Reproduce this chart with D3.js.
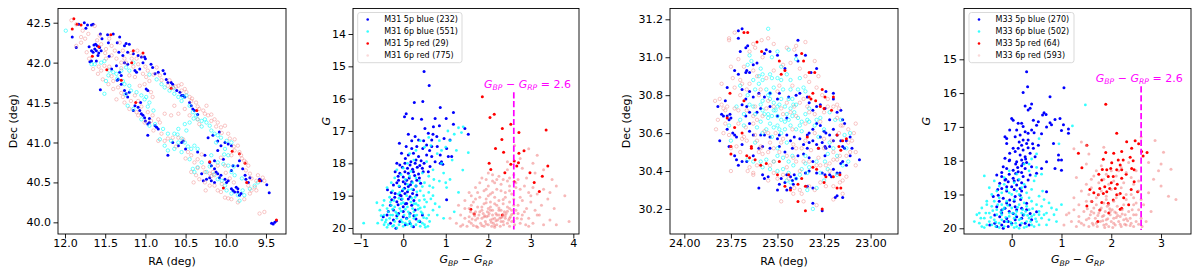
<!DOCTYPE html>
<html>
<head>
<meta charset="utf-8">
<script src="https://cdn.jsdelivr.net/npm/d3@7/dist/d3.min.js"></script>
<style>
  body { margin: 0; background: #fff; }
  svg { font-family: 'DejaVu Sans', sans-serif; }
</style>
</head>
<body>
<div id="chart"></div>
<script>
// ---- M31 sky positions [RA, Dec]
var m31SkyBlue5 = [[11.83,42.48],[11.76,42.50],[11.72,42.47],[11.67,42.47],[11.65,42.48],[11.74,42.43],[11.91,42.32],[11.86,42.19],
  [11.56,42.36],[11.47,42.35],[11.40,42.36],[11.54,42.30],[11.46,42.25],[11.35,42.25],[11.32,42.32],[11.64,42.22],[11.62,42.23],
  [11.60,42.21],[11.63,42.17],[11.67,42.15],[11.61,42.15],[11.57,42.19],[11.55,42.15],[11.69,42.01],[11.67,42.02],[11.61,42.02],
  [11.59,42.09],[11.65,42.13],[11.24,42.24],[11.20,42.23],[11.26,42.21],[11.22,42.13],[11.15,42.11],[11.09,42.09],[11.05,42.07],
  [11.00,42.05],[11.03,42.00],[11.01,42.07],[11.33,42.13],[11.28,42.09],[11.26,42.00],[11.22,41.98],[11.42,41.92],[11.36,41.96],
  [11.32,41.88],[11.34,41.79],[11.30,41.84],[11.13,41.90],[11.07,41.92],[11.11,41.88],[10.93,41.98],[10.91,41.94],[10.88,41.86],
  [10.84,41.88],[10.78,41.90],[10.76,41.86],[10.74,41.79],[10.72,41.75],[10.68,41.75],[10.66,41.73],[11.56,41.66],[11.35,41.78],
  [11.30,41.73],[11.26,41.65],[11.24,41.61],[11.22,41.57],[11.20,41.63],[11.09,41.44],[11.07,41.40],[11.05,41.36],[11.03,41.34],
  [11.01,41.31],[11.00,41.27],[10.97,41.23],[10.88,41.21],[10.86,41.19],[10.84,41.17],[10.95,41.25],[11.13,41.46],[11.06,41.50],
  [10.99,41.67],[10.97,41.65],[10.61,41.65],[10.57,41.63],[10.55,41.59],[10.53,41.59],[10.51,41.57],[10.43,41.46],[10.41,41.42],
  [10.39,41.40],[10.97,41.09],[10.66,41.00],[10.59,40.96],[10.55,41.00],[10.53,41.02],[10.50,40.92],[10.72,40.84],[10.35,40.88],
  [10.26,40.84],[10.22,41.06],[10.16,41.09],[10.08,41.13],[10.10,41.02],[10.06,40.96],[10.01,41.00],[9.97,40.98],[9.93,40.96],
  [10.10,40.90],[10.03,40.79],[10.14,40.77],[10.20,40.75],[10.18,40.71],[10.14,40.67],[10.12,40.63],[10.10,40.61],[10.08,40.56],
  [10.06,40.59],[10.01,40.54],[9.99,40.50],[9.97,40.52],[9.93,40.65],[9.91,40.71],[9.85,40.71],[9.83,40.77],[10.30,40.61],
  [10.28,40.52],[10.24,40.54],[10.20,40.56],[10.18,40.52],[10.14,40.50],[9.93,40.42],[9.91,40.40],[9.89,40.38],[9.85,40.38],
  [9.83,40.34],[9.81,40.36],[9.85,40.42],[9.87,40.44],[9.76,40.59],[9.75,40.54],[9.72,40.50],[9.70,40.56],[9.79,40.67],
  [9.58,40.54],[9.56,40.52],[9.49,40.47],[9.46,40.37],[9.43,39.99],[9.41,39.98],[9.39,40.00],[9.37,40.02],
  [11.70,42.20],[11.58,42.12],[11.45,42.08],[10.45,41.50],[10.35,41.35],[10.95,41.30],[11.15,41.40]];
var m31SkyCyan6 = [[11.99,42.40],[11.67,41.98],[11.63,41.98],[11.55,42.00],[11.51,42.02],[11.49,41.77],[11.46,41.84],[11.40,41.88],
  [11.36,41.86],[11.30,41.90],[11.24,41.94],[11.20,41.90],[11.15,42.00],[11.51,41.61],[11.28,41.77],[11.26,41.73],[11.20,41.71],
  [11.18,41.65],[11.11,41.63],[11.05,41.59],[11.01,41.54],[10.99,41.57],[10.95,41.50],[11.22,41.46],[11.15,41.42],[11.05,41.29],
  [10.95,41.21],[10.88,41.23],[10.78,41.17],[10.72,41.11],[10.64,41.11],[10.68,41.02],[10.59,41.00],[10.51,41.00],[10.43,40.92],
  [10.39,40.96],[10.35,40.92],[10.86,41.79],[10.80,41.73],[10.76,41.69],[10.70,41.65],[10.64,41.61],[10.59,41.57],[10.53,41.57],
  [10.49,41.59],[10.45,41.46],[10.41,41.38],[10.37,41.34],[10.35,41.29],[10.30,41.27],[10.26,41.29],[10.24,41.25],[10.20,41.21],
  [10.18,41.15],[10.14,41.11],[10.10,41.09],[10.06,41.06],[9.99,41.02],[9.93,41.00],[10.01,40.92],[9.97,40.84],[10.03,40.73],
  [9.97,40.71],[9.93,40.63],[9.89,40.59],[10.41,40.67],[10.39,40.63],[10.35,40.69],[10.24,40.63],[10.10,40.54],[10.01,40.46],
  [9.99,40.40],[9.93,40.36],[9.85,40.34],[9.83,40.27],[9.79,40.40],[9.77,40.34],[9.70,40.42],[9.64,40.46],[9.60,40.50],
  [10.45,41.25],[10.51,41.23],[10.49,41.15],[10.59,41.17],[10.82,41.04],[10.76,40.96],[10.72,40.90],[10.64,40.92],[10.55,40.88],
  [10.45,40.79],[10.30,40.75],[10.18,40.84],[10.10,40.75],
  [11.45,41.90],[11.35,41.80],[11.25,41.60],[10.97,41.45],[10.90,41.40],[10.60,41.10],[10.55,41.05],[10.47,40.95],[10.20,40.70],
  [10.15,40.60],[10.05,40.52],[10.95,41.85],[10.65,41.68],[10.55,41.52],[10.40,41.30],[10.30,41.20],[10.12,41.00],[10.02,40.85],
  [9.90,40.70],[9.80,40.55]];
var m31SkyRed5 = [[11.89,42.55],[11.91,42.42],[11.85,42.48],[11.80,42.47],[11.66,42.08],[11.58,42.20],[11.43,42.35],[11.15,42.15],
  [11.17,42.00],[11.30,41.78],[11.12,41.50],[10.68,41.68],[10.36,41.40],[10.20,40.76],[9.92,40.89],[9.76,40.74],[9.74,40.50],
  [9.58,40.52],[10.03,40.43],[9.37,40.03],[9.83,40.86],[11.03,42.12],[11.48,41.91]];
var m31SkyPink6 = [[11.92,42.53],[11.86,42.48],[11.63,42.46],[11.78,42.40],[11.71,42.36],[11.57,42.34],[11.73,42.13],[11.55,42.23],
  [11.49,42.17],[11.42,42.21],[11.32,42.25],[11.49,42.05],[11.42,42.09],[11.36,42.05],[11.26,42.05],[11.17,42.05],[11.11,42.05],
  [11.09,41.98],[11.05,42.09],[11.55,41.90],[11.53,41.79],[11.46,41.73],[11.40,41.67],[11.36,41.54],[11.28,41.57],[11.26,41.50],
  [11.20,41.42],[11.11,41.38],[11.09,41.34],[11.01,41.25],[10.93,41.27],[10.97,41.38],[10.91,41.34],[10.84,41.29],[11.30,42.00],
  [11.24,42.00],[11.20,41.84],[11.13,41.82],[11.03,41.86],[10.99,41.82],[10.95,41.77],[10.97,41.90],[10.86,41.94],[10.82,41.84],
  [10.72,41.71],[10.66,41.69],[10.59,41.71],[10.55,41.73],[10.51,41.67],[10.49,41.63],[10.45,41.57],[10.43,41.52],[10.37,41.50],
  [10.33,41.42],[10.26,41.36],[10.22,41.34],[10.24,41.46],[10.35,41.29],[10.33,41.23],[10.64,41.46],[10.59,41.36],[10.68,41.34],
  [10.76,41.36],[10.82,41.25],[10.80,41.11],[10.84,41.02],[10.76,41.02],[10.66,41.06],[10.59,41.06],[10.53,41.04],[10.47,40.88],
  [10.43,40.84],[10.39,40.75],[10.35,40.79],[10.28,40.69],[10.26,40.63],[10.20,40.61],[10.16,40.63],[10.14,40.59],[10.10,40.71],
  [10.01,40.71],[10.06,40.81],[9.93,40.84],[9.89,40.90],[9.85,40.96],[9.83,40.88],[9.81,40.84],[9.77,40.77],[9.72,40.71],
  [9.75,40.65],[9.70,40.61],[9.72,40.46],[9.68,40.40],[9.64,40.44],[9.70,40.36],[9.77,40.29],[9.85,40.25],[9.93,40.29],
  [10.01,40.31],[10.06,40.38],[10.10,40.40],[10.14,40.46],[10.20,40.46],[10.26,40.50],[10.33,40.54],[10.37,40.59],[10.43,40.63],
  [9.60,40.59],[9.54,40.56],[9.52,40.52],[9.62,40.40],[9.58,40.11],[9.52,40.13],[10.01,41.21],[10.10,41.25],[10.14,41.29],
  [10.18,41.27],[10.06,41.19],[9.97,41.11],[9.89,41.04],[10.51,41.42],[10.45,41.34],[10.93,41.63],[10.91,41.57],[11.07,41.71],
  [11.01,41.73],[11.13,41.59],[11.09,41.52],[11.34,41.69],[11.40,41.77],[11.65,41.92],[11.59,41.86],[11.51,41.96],[11.86,42.21],
  [11.80,42.25],
  [11.75,42.30],[11.60,42.28],[11.45,42.30],[11.38,42.15],[11.28,42.15],[11.18,42.12],[11.10,42.15],[11.45,41.95],[11.30,41.93],
  [11.15,41.95],[11.00,41.95],[10.90,41.85],[10.80,41.78],[10.70,41.78],[10.62,41.70],[10.55,41.65],[10.42,41.55],[10.35,41.45],
  [10.28,41.40],[10.18,41.35],[10.12,41.20],[10.05,41.12],[9.95,41.05],[9.90,40.95],[9.80,40.80],[9.75,40.75],[9.68,40.55],
  [9.95,40.55],[10.05,40.48],[10.18,40.58],[10.35,40.68],[10.50,40.80],[10.62,40.95],[10.72,41.05],[10.90,41.15],[11.05,41.45],
  [11.18,41.52],[11.30,41.62],[11.42,41.83],[11.58,41.95],[11.70,42.05],[11.80,42.32],[11.50,42.12],[10.25,40.40],[10.40,40.50],
  [9.97,40.30],[9.90,40.50],[10.00,40.62],[10.30,40.85],[9.62,40.52]];

// ---- M31 colour-magnitude [BP-RP, G]
var m31CmdBlue5 = [[0.49,15.16],[0.61,15.59],[0.26,16.12],[0.46,16.09],[0.87,16.27],[1.18,16.43],[0.07,16.47],[0.03,16.56],
  [0.22,16.61],[0.43,16.64],[0.75,16.61],[1.01,16.61],[1.18,16.79],[0.51,16.92],[0.71,16.87],[0.85,16.84],[1.45,16.92],[1.53,17.10],
  [0.12,17.10],[0.28,17.17],[0.36,17.28],[0.59,17.07],[0.67,17.28],[0.79,17.17],[0.96,17.23],[1.10,17.28],[-0.09,17.38],[0.07,17.48],
  [0.20,17.54],[0.32,17.48],[0.46,17.54],[0.55,17.43],[0.67,17.48],[0.80,17.48],[1.02,17.54],[-0.04,17.69],[0.12,17.74],[0.24,17.69],
  [0.36,17.79],[0.55,17.74],[0.67,17.79],[0.87,17.74],[1.06,17.79],[-0.15,18.00],[-0.08,18.05],[0.04,18.00],[0.16,18.05],[0.28,18.00],
  [0.39,18.07],[0.49,18.00],[0.63,18.10],[0.87,18.00],[0.93,18.03],[1.14,17.79],[-0.19,18.26],[-0.08,18.31],[0.04,18.26],[0.12,18.31],
  [0.24,18.26],[0.36,18.33],[0.47,18.26],[0.59,18.26],[-0.11,18.52],[0.00,18.57],[0.08,18.52],[0.20,18.57],[0.32,18.52],[0.41,18.62],
  [-0.23,18.67],[-0.09,18.72],[0.03,18.77],[0.12,18.72],[0.24,18.82],[-0.37,18.82],[-0.19,18.93],[-0.08,18.98],[0.04,18.93],
  [0.16,19.03],[0.32,18.98],[-0.27,19.13],[-0.15,19.19],[-0.04,19.11],[0.08,19.24],[1.02,19.13],[-0.35,19.49],[-0.23,19.44],
  [-0.11,19.55],[0.00,19.49],[0.16,19.55],[0.28,19.44],[-0.23,19.75],[-0.08,19.80],[0.08,19.70],[0.16,19.86],[0.39,19.80],
  [-0.17,20.01],[0.24,19.96],[-0.47,19.65],[0.00,19.34],
  [0.05,17.85],[0.18,17.95],[0.3,17.9],[0.42,17.92],[-0.02,18.12],[0.1,18.15],[0.22,18.18],[0.33,18.12],[0.45,18.15],[-0.12,18.4],
  [0.0,18.42],[0.14,18.45],[0.27,18.38],[0.38,18.45],[-0.15,18.6],[0.05,18.63],[0.17,18.66],[0.3,18.7],[-0.28,18.9],[-0.02,18.85],
  [0.1,18.88],[0.22,18.93],[-0.2,19.05],[-0.05,19.0],[0.12,19.1],[0.25,19.15],[-0.3,19.3],[-0.12,19.28],[0.05,19.25],[0.2,19.3],
  [-0.38,19.6],[-0.15,19.62],[0.0,19.65],[0.25,19.62],[-0.3,19.85],[0.05,19.9],[0.3,19.72],[0.45,19.6],[0.62,17.6],[0.75,17.95],
  [0.48,17.3],[0.2,17.3],[0.9,17.95],[0.7,17.1]];
var m31CmdCyan6 = [[-0.93,19.85],[-0.62,19.22],[-0.55,19.45],[-0.45,19.6],[-0.48,19.3],[-0.4,19.75],[-0.35,19.9],[-0.3,19.6],
  [-0.25,19.95],[-0.2,19.8],[-0.15,19.7],[-0.1,19.9],[-0.05,19.75],[0.0,19.95],[0.05,19.85],[0.1,19.9],[0.15,19.8],[0.2,19.95],
  [0.25,19.7],[0.3,19.9],[0.35,19.8],[0.4,19.95],[0.45,19.85],[0.5,19.9],[-0.38,19.4],[-0.28,19.3],[-0.18,19.5],[-0.08,19.4],
  [0.02,19.6],[0.12,19.5],[0.22,19.4],[0.32,19.6],[0.42,19.5],[0.5,19.35],[0.55,19.7],[0.6,19.6],[-0.32,19.05],[-0.22,19.15],
  [-0.12,18.95],[-0.02,19.1],[0.08,19.0],[0.18,19.2],[0.28,19.05],[0.38,19.15],[0.48,19.0],[0.55,19.2],[0.65,19.1],[0.75,19.25],
  [-0.38,18.75],[-0.25,18.85],[-0.1,18.7],[0.0,18.8],[0.1,18.65],[0.2,18.8],[0.3,18.7],[0.4,18.85],[0.5,18.6],[0.6,18.9],[0.7,18.75],
  [-0.2,18.45],[-0.05,18.35],[0.05,18.5],[0.15,18.4],[0.3,18.45],[0.45,18.3],[0.6,18.4],[0.72,18.5],[0.85,18.55],[0.0,18.15],
  [0.1,18.0],[0.25,17.9],[0.55,17.95],[0.7,18.2],[0.8,17.7],[0.9,18.0],[1.0,17.5],[1.1,17.3],[1.2,17.1],[1.3,16.9],[1.41,16.87],
  [1.37,17.05],[1.53,17.67],[1.40,18.21],[1.25,17.6],[1.15,17.9],[1.0,18.6],[1.02,18.75],[0.95,19.7],[1.2,19.5],[1.3,18.9],
  [0.3,17.6],[0.4,17.3],[0.6,17.2],[0.15,17.7],[0.85,17.3],[1.05,17.0],[-0.45,19.9],[-0.5,19.75],[0.58,19.95],[0.62,19.8],
  [-0.15,20.0],[0.25,19.25],[0.35,19.3],[-0.05,19.25],[0.7,19.45],[0.8,19.6],[0.85,19.35],[-0.25,19.6],[0.15,19.65],
  [-0.42,19.82],[-0.32,19.7],[-0.22,19.92],[-0.12,19.6],[-0.02,19.82],[0.08,19.72],[0.18,19.88],[0.28,19.62],[0.38,19.78],
  [0.48,19.68],[-0.35,19.5],[-0.25,19.42],[-0.15,19.55],[-0.05,19.48],[0.05,19.42],[0.15,19.58],[0.25,19.5],[0.35,19.42],
  [0.45,19.55],[-0.3,19.2],[-0.2,19.35],[-0.1,19.08],[0.0,19.22],[0.1,19.35],[0.2,19.08],[0.3,19.25],[0.4,19.38],[0.5,19.12],
  [-0.45,19.15],[-0.52,19.62],[-0.6,19.85],[-0.38,19.98],[0.52,19.98],[-0.08,18.9],[0.12,18.82],[0.32,18.88],[0.45,18.72],
  [-0.28,18.6],[0.22,18.6],[0.38,18.55],[0.62,18.7],[0.7,19.0],[-0.15,18.2],[0.18,18.25],[0.5,17.5],[0.65,17.45],[0.95,18.3],
  [1.1,18.5],[0.9,17.6]];
var m31CmdRed5 = [[1.86,15.94],[2.04,16.58],[2.14,16.48],[2.33,16.92],[2.53,16.79],[3.36,16.97],[2.72,17.05],[2.32,17.26],
  [2.17,17.54],[2.36,17.66],[2.84,17.61],[2.72,17.69],[2.02,18.00],[2.06,18.19],[2.39,18.29],[2.53,18.03],[2.61,17.93],[2.71,17.98],
  [2.67,18.08],[2.98,18.29],[3.40,18.08],[3.27,18.40],[3.08,18.59],[2.61,18.57],[3.20,18.87],[1.59,19.42],[1.67,19.57],[2.33,19.60]];
var m31CmdPink6 = [[2.62,17.45],[2.95,17.55],[2.75,17.85],[3.15,17.75],[2.45,17.95],[3.05,18.0],[1.85,18.45],[2.1,18.35],[2.25,18.4],
  [2.45,18.2],[2.6,18.35],[2.8,18.15],[2.9,18.45],[3.1,18.3],[3.3,18.2],[2.0,18.3],[2.35,18.5],[2.7,18.5],[3.5,18.5],[1.95,18.5],
  [1.55,18.9],[1.7,18.75],[1.8,18.6],[1.9,18.85],[2.0,18.7],[2.05,18.95],[2.15,18.6],[2.2,18.8],[2.3,18.65],[2.4,18.9],[2.5,18.7],
  [2.55,18.95],[2.65,18.6],[2.75,18.8],[2.85,18.7],[2.95,18.9],[3.05,18.75],[3.15,18.95],[3.3,18.8],[3.45,18.9],[3.6,18.7],
  [2.1,18.55],[2.45,18.55],[1.6,19.0],[1.3,19.3],[1.45,19.15],[1.55,19.4],[1.65,19.2],[1.75,19.35],[1.8,19.05],[1.85,19.45],
  [1.9,19.25],[1.95,19.1],[2.0,19.4],[2.05,19.2],[2.1,19.45],[2.15,19.05],[2.2,19.3],[2.25,19.15],[2.3,19.45],[2.35,19.25],
  [2.4,19.05],[2.45,19.35],[2.5,19.2],[2.55,19.45],[2.6,19.1],[2.7,19.3],[2.8,19.15],[2.9,19.4],[3.0,19.2],[3.1,19.45],[3.25,19.3],
  [3.4,19.1],[3.8,19.0],[3.55,19.4],[1.7,19.5],[2.0,19.0],[2.65,19.45],[1.25,19.85],[1.35,19.6],[1.4,19.9],[1.45,19.7],[1.5,19.95],
  [1.55,19.65],[1.6,19.85],[1.65,19.55],[1.7,19.75],[1.72,19.95],[1.78,19.6],[1.82,19.85],[1.85,19.7],[1.88,19.55],[1.9,19.95],
  [1.93,19.8],[1.96,19.65],[2.0,19.9],[2.02,19.55],[2.05,19.75],[2.08,19.95],[2.1,19.6],[2.12,19.85],[2.15,19.7],[2.18,19.55],
  [2.2,19.9],[2.22,19.75],[2.25,19.6],[2.28,19.95],[2.3,19.8],[2.33,19.65],[2.36,19.9],[2.4,19.7],[2.42,19.55],[2.45,19.85],
  [2.5,19.95],[2.52,19.65],[2.55,19.8],[2.6,19.55],[2.62,19.9],[2.68,19.7],[2.75,19.85],[2.8,19.6],[2.88,19.9],[2.95,19.7],
  [3.05,19.85],[3.15,19.6],[3.3,19.9],[3.9,19.8],[3.45,19.75],[1.58,19.5],[1.98,19.5],[2.38,19.5],[1.75,19.98],[2.15,19.98],
  [1.62,19.72],[1.92,19.62],[2.27,19.7],[2.07,19.82],[1.85,19.92],[2.48,19.75],[1.68,19.62],[2.18,19.78],[2.35,19.58],
  [1.55,19.8],[1.65,19.92],[1.75,19.7],[1.8,19.5],[1.9,19.65],[1.95,19.88],[2.0,19.62],[2.05,19.45],[2.1,19.72],[2.15,19.92],
  [2.2,19.6],[2.25,19.45],[2.3,19.68],[2.35,19.8],[2.4,19.62],[2.45,19.48],[2.5,19.7],[2.55,19.58],[2.6,19.78],[2.7,19.55],
  [2.78,19.72],[2.85,19.5],[1.6,19.3],[1.7,19.1],[1.85,19.35],[1.95,19.22],[2.05,19.35],[2.15,19.25],[2.25,19.38],[2.35,19.12],
  [2.5,19.4],[2.6,19.3],[2.75,19.05],[1.75,18.9],[1.95,18.8],[2.1,18.9],[2.3,18.85],[2.5,18.85],[2.65,18.75],[2.2,18.5],[2.5,18.45],
  [3.0,19.0],[3.2,19.6],[1.45,19.4],[1.35,19.95],[2.95,19.95],[3.6,19.9],[1.1,19.7]];

// ---- M33 sky positions [RA, Dec]
var m33SkyBlue5 = [[23.71,31.14],[23.69,31.15],[23.71,31.10],[23.70,31.03],[23.67,31.05],[23.66,31.06],[23.61,30.97],[23.63,30.96],
  [23.56,31.04],[23.54,31.03],[23.57,31.02],[23.50,31.01],[23.46,30.94],[23.39,31.09],[23.40,31.01],[23.35,31.01],[23.39,30.98],
  [23.29,30.94],[23.32,30.92],[23.24,30.82],[23.20,30.78],[23.20,30.81],[23.665,30.93],[23.67,30.92],[23.65,30.92],[23.73,30.93],
  [23.71,30.91],[23.77,30.84],[23.69,30.83],[23.65,30.82],[23.63,30.79],[23.60,30.81],[23.57,30.79],[23.54,30.81],[23.50,30.78],
  [23.49,30.81],[23.44,30.79],[23.40,30.80],[23.38,30.81],[23.34,30.79],[23.33,30.76],[23.31,30.72],[23.29,30.74],[23.27,30.75],
  [23.245,30.73],[23.22,30.67],[23.18,30.71],[23.16,30.72],[23.15,30.67],[23.14,30.65],[23.78,30.77],[23.82,30.74],[23.67,30.78],
  [23.69,30.75],[23.665,30.74],[23.65,30.71],[23.67,30.69],[23.65,30.65],[23.61,30.71],[23.59,30.73],[23.54,30.74],[23.50,30.69],
  [23.45,30.68],[23.80,30.70],[23.79,30.69],[23.77,30.69],[23.76,30.67],[23.755,30.70],[23.75,30.68],[23.74,30.60],[23.73,30.59],
  [23.72,30.58],[23.77,30.62],[23.81,30.56],[23.76,30.53],[23.69,30.54],[23.65,30.61],[23.63,30.59],[23.59,30.59],[23.57,30.59],
  [23.54,30.58],[23.50,30.57],[23.49,30.59],[23.45,30.59],[23.43,30.56],[23.41,30.58],[23.38,30.57],[23.36,30.54],[23.34,30.59],
  [23.33,30.60],[23.31,30.62],[23.29,30.65],[23.27,30.64],[23.25,30.61],[23.24,30.60],[23.22,30.59],[23.20,30.62],[23.34,30.52],
  [23.33,30.55],[23.31,30.56],[23.29,30.54],[23.28,30.52],[23.27,30.58],[23.26,30.55],[23.245,30.53],[23.24,30.52],[23.22,30.53],
  [23.20,30.56],[23.18,30.59],[23.16,30.56],[23.15,30.53],[23.14,30.52],[23.13,30.56],[23.11,30.58],[23.245,30.48],[23.73,30.48],
  [23.72,30.46],[23.69,30.45],[23.71,30.43],[23.665,30.45],[23.63,30.48],[23.60,30.52],[23.58,30.53],[23.54,30.52],[23.49,30.53],
  [23.46,30.50],[23.42,30.52],[23.39,30.48],[23.36,30.49],[23.33,30.47],[23.31,30.45],[23.58,30.38],[23.57,30.36],[23.55,30.37],
  [23.48,30.36],[23.49,30.33],[23.46,30.34],[23.45,30.38],[23.43,30.37],[23.42,30.35],[23.415,30.33],[23.41,30.38],[23.40,30.36],
  [23.35,30.39],[23.33,30.40],[23.29,30.39],[23.26,30.39],[23.245,30.38],[23.22,30.38],[23.21,30.37],[23.20,30.41],[23.18,30.39],
  [23.165,30.39],[23.16,30.44],[23.15,30.45],[23.13,30.43],[23.11,30.48],[23.10,30.52],[23.06,30.46],[23.60,30.31],[23.50,30.30],
  [23.45,30.30],[23.43,30.31],[23.31,30.31],[23.34,30.32],[23.18,30.27],[23.15,30.26],[23.31,30.23],[23.26,30.19],[23.19,30.26]];
var m33SkyCyan6 = [[23.55,31.15],[23.50,31.03],[23.44,31.04],[23.40,30.99],[23.65,31.01],[23.64,30.98],[23.66,30.96],[23.59,30.94],
  [23.58,30.91],[23.54,30.91],[23.53,30.89],[23.50,30.89],[23.48,30.88],[23.58,30.88],[23.63,30.88],[23.60,30.86],[23.45,30.91],
  [23.43,30.88],[23.38,30.89],[23.36,30.84],[23.35,30.82],[23.39,30.83],[23.47,30.83],[23.52,30.84],[23.54,30.81],[23.56,30.83],
  [23.62,30.83],[23.66,30.80],[23.65,30.75],[23.63,30.74],[23.59,30.75],[23.58,30.77],[23.54,30.78],[23.52,30.76],[23.50,30.74],
  [23.49,30.75],[23.46,30.74],[23.43,30.73],[23.415,30.75],[23.44,30.78],[23.58,30.72],[23.57,30.70],[23.55,30.68],[23.53,30.69],
  [23.51,30.72],[23.50,30.69],[23.48,30.67],[23.46,30.66],[23.44,30.67],[23.42,30.69],[23.41,30.71],[23.39,30.68],[23.37,30.66],
  [23.54,30.65],[23.52,30.63],[23.50,30.64],[23.49,30.62],[23.56,30.62],[23.59,30.66],[23.61,30.63],[23.46,30.62],[23.43,30.64],
  [23.40,30.62],[23.37,30.61],[23.34,30.67],[23.33,30.66],[23.29,30.67],[23.27,30.68],[23.22,30.71],[23.19,30.67],[23.16,30.67],
  [23.14,30.59],[23.11,30.60],[23.13,30.52],[23.20,30.52],[23.23,30.49],[23.245,30.45],[23.29,30.45],[23.33,30.42],[23.35,30.44],
  [23.37,30.41],[23.34,30.39],[23.38,30.38],[23.415,30.43],[23.44,30.45],[23.47,30.47],[23.50,30.48],[23.52,30.45],[23.56,30.46],
  [23.59,30.45],[23.63,30.45],[23.66,30.46],[23.50,30.40],[23.47,30.41],[23.44,30.39],[23.54,30.41],[23.72,30.74],[23.70,30.67],
  [23.68,30.64],[23.76,30.64],[23.75,30.56],[23.31,30.20],[23.27,30.39],[23.23,30.41],[23.18,30.38],[23.15,30.43],[23.29,30.31],
  [23.34,30.30],[23.43,30.34],
  [23.55,30.80],[23.52,30.72],[23.48,30.78],[23.45,30.70],[23.42,30.78],[23.40,30.75],[23.55,30.70],[23.58,30.60],[23.53,30.58],
  [23.48,30.60],[23.45,30.55],[23.38,30.64],[23.35,30.70],[23.30,30.64],[23.25,30.62],[23.28,30.58],[23.22,30.55],[23.35,30.48],
  [23.42,30.48],[23.62,30.70],[23.60,30.90],[23.48,30.95],[23.53,31.00],[23.70,30.85],[23.68,30.70],[23.62,30.55],[23.58,30.42],
  [23.40,30.36],[23.45,30.35],[23.18,30.48],[23.12,30.45],[23.25,30.35],[23.50,30.52],[23.33,30.73],[23.43,30.83]];
var m33SkyRed5 = [[23.68,31.13],[23.66,31.13],[23.61,31.08],[23.585,31.03],[23.49,30.98],[23.46,30.93],[23.37,31.02],[23.36,30.98],
  [23.33,30.92],[23.30,30.92],[23.26,30.83],[23.31,30.81],[23.33,30.79],[23.32,30.78],[23.295,30.77],[23.27,30.74],[23.25,30.73],
  [23.245,30.79],[23.20,30.79],[23.21,30.72],[23.18,30.59],[23.17,30.53],[23.15,30.56],[23.13,30.57],[23.16,30.51],[23.165,30.38],
  [23.20,30.37],[23.24,30.37],[23.25,30.34],[23.16,30.31],[23.18,30.31],[23.755,30.81],[23.68,30.77],[23.77,30.68],[23.73,30.63],
  [23.69,30.60],[23.75,30.53],[23.75,30.49],[23.665,30.48],[23.64,30.53],[23.64,30.52],[23.62,30.46],[23.59,30.43],[23.56,30.44],
  [23.50,30.38],[23.49,30.45],[23.46,30.32],[23.44,30.38],[23.43,30.30],[23.39,30.33],[23.37,30.36],[23.35,30.32],[23.31,30.42],
  [23.29,30.41],[23.39,30.24],[23.35,30.19],[23.26,30.20],[23.65,30.47],[23.48,30.91],[23.34,30.58],[23.28,30.52]];
var m33SkyPink6 = [[23.76,31.10],[23.76,31.09],[23.73,31.13],[23.63,31.07],[23.62,31.05],[23.585,31.09],[23.55,31.10],[23.52,31.07],
  [23.40,31.06],[23.41,31.04],[23.71,30.99],[23.65,31.03],[23.68,30.95],[23.63,30.93],[23.61,30.90],[23.74,30.89],[23.70,30.88],
  [23.73,30.84],[23.69,30.86],[23.65,30.86],[23.59,30.83],[23.665,30.83],[23.835,30.77],[23.81,30.78],[23.80,30.75],[23.77,30.74],
  [23.73,30.73],[23.71,30.72],[23.665,30.72],[23.63,30.69],[23.61,30.67],[23.58,30.69],[23.56,30.73],[23.52,30.74],[23.48,30.73],
  [23.47,30.70],[23.43,30.71],[23.41,30.74],[23.38,30.76],[23.36,30.78],[23.34,30.74],[23.33,30.71],[23.30,30.70],[23.27,30.66],
  [23.25,30.71],[23.23,30.74],[23.20,30.74],[23.18,30.75],[23.17,30.73],[23.15,30.64],[23.12,30.62],[23.09,30.60],[23.10,30.56],
  [23.08,30.50],[23.11,30.50],[23.13,30.48],[23.165,30.48],[23.18,30.46],[23.20,30.46],[23.22,30.44],[23.24,30.43],[23.27,30.43],
  [23.29,30.43],[23.33,30.45],[23.36,30.45],[23.40,30.45],[23.415,30.47],[23.45,30.48],[23.49,30.50],[23.52,30.52],[23.55,30.50],
  [23.58,30.49],[23.59,30.52],[23.61,30.56],[23.665,30.56],[23.69,30.57],[23.72,30.53],[23.75,30.52],[23.76,30.59],[23.79,30.60],
  [23.78,30.65],[23.82,30.67],[23.79,30.73],[23.66,30.40],[23.63,30.39],[23.61,30.43],[23.54,30.43],[23.52,30.39],[23.50,30.36],
  [23.47,30.38],[23.44,30.36],[23.41,30.31],[23.38,30.30],[23.37,30.28],[23.33,30.32],[23.27,30.34],[23.24,30.32],[23.20,30.32],
  [23.165,30.34],[23.15,30.35],[23.13,30.37],[23.08,30.43],[23.15,30.28],[23.48,30.24],[23.415,30.28],[23.36,30.24],[23.29,30.22],
  [23.63,30.38],[23.42,30.85],[23.49,30.85],[23.56,30.89],[23.52,30.93],[23.47,30.96],[23.43,30.97],[23.38,30.94],[23.35,30.90],
  [23.33,30.87],[23.29,30.84],[23.26,30.80],[23.23,30.78],[23.63,30.65],[23.57,30.61],[23.51,30.60],[23.47,30.57],[23.415,30.54],
  [23.37,30.52],[23.32,30.51],[23.25,30.52],[23.21,30.56],[23.17,30.60],[23.16,30.64],[23.54,30.55],[23.59,30.53],[23.62,30.59],
  [23.67,30.63],[23.71,30.65],[23.80,30.86],
  [23.75,30.95],[23.70,30.80],[23.62,30.74],[23.55,30.77],[23.50,30.82],[23.45,30.76],[23.40,30.69],[23.35,30.65],[23.30,30.60],
  [23.25,30.57],[23.20,30.50],[23.55,30.60],[23.60,30.50],[23.65,30.42],[23.55,30.35],[23.45,30.42],[23.40,30.52],[23.35,30.56],
  [23.28,30.47],[23.22,30.40],[23.75,30.40],[23.70,30.50],[23.78,30.72],[23.58,31.00],[23.45,31.05],[23.35,31.08],[23.30,30.98],
  [23.28,30.90],[23.18,30.68],[23.12,30.55],[23.52,30.45],[23.48,30.55],[23.42,30.62],[23.60,30.80],[23.68,30.58],[23.38,30.40],
  [23.30,30.30],[23.20,30.25],[23.08,30.65],[23.83,30.62]];

// ---- M33 colour-magnitude [BP-RP, G]
var m33CmdBlue5 = [[0.30,15.37],[0.32,15.81],[0.23,15.98],[1.05,15.84],[0.77,16.11],[0.27,16.38],[0.33,16.50],[0.40,16.32],
  [0.37,16.45],[0.00,16.75],[0.03,16.80],[0.65,16.58],[0.62,16.65],[0.69,16.63],[0.535,16.85],[0.435,16.80],[0.77,16.88],[0.87,16.78],
  [0.80,16.94],[0.97,16.75],[1.04,16.94],[1.00,17.11],[1.14,17.06],[1.14,17.19],[0.13,16.89],[0.20,16.89],[0.23,16.99],[0.10,17.09],
  [-0.04,17.09],[-0.10,17.34],[-0.135,17.29],[0.07,17.29],[0.17,17.24],[0.27,17.14],[0.33,17.19],[0.40,17.09],[0.45,17.17],[0.23,17.39],
  [0.30,17.49],[0.33,17.39],[0.20,17.54],[0.03,17.63],[-0.10,17.49],[-0.04,17.78],[0.07,17.73],[0.13,17.63],[0.23,17.68],[0.33,17.62],
  [0.435,17.63],[0.535,17.54],[0.17,17.83],[0.27,17.88],[0.37,17.78],[0.47,17.88],[-0.135,17.93],[-0.04,17.98],[0.10,18.03],
  [0.20,17.98],[0.23,18.08],[-0.17,18.18],[-0.10,18.23],[0.03,18.28],[0.13,18.33],[0.27,18.23],[0.40,18.18],[0.84,17.49],[0.94,17.83],
  [0.94,17.98],[1.00,17.98],[0.87,18.23],[1.00,18.28],[0.60,18.23],[0.70,18.03],[0.70,18.92],[-0.30,18.42],[-0.20,18.47],[-0.135,18.57],
  [-0.24,18.67],[-0.07,18.62],[0.03,18.52],[0.13,18.57],[0.23,18.47],[0.33,18.57],[0.37,18.42],[0.50,18.37],[-0.20,18.82],[-0.10,18.77],
  [0.00,18.77],[0.10,18.72],[0.17,18.82],[0.27,18.77],[-0.37,19.06],[-0.27,19.02],[-0.17,19.11],[-0.04,19.16],[0.07,19.06],[0.17,19.02],
  [-0.30,19.36],[-0.20,19.46],[-0.135,19.41],[-0.04,19.31],[0.07,19.36],[0.20,19.41],[0.30,19.26],[-0.34,19.61],[-0.24,19.66],
  [-0.10,19.71],[0.03,19.56],[0.10,19.66],[0.23,19.61],[0.37,19.56],[0.50,19.51],[-0.34,19.85],[-0.20,19.90],[-0.07,19.80],[0.07,19.75],
  [0.17,19.90],[0.27,19.85],[0.40,19.75],[-0.07,19.95],[-0.44,19.90],[-0.30,19.95],[-0.17,20.00],
  [-0.05,18.0],[0.08,18.1],[0.2,18.15],[0.3,18.05],[-0.2,18.35],[-0.05,18.4],[0.08,18.38],[0.2,18.35],[-0.12,18.55],[0.05,18.6],
  [0.2,18.65],[-0.28,18.85],[-0.1,18.9],[0.05,18.85],[0.2,18.9],[-0.25,19.2],[-0.1,19.25],[0.05,19.2],[0.18,19.15],[-0.2,19.55],
  [-0.05,19.5],[0.1,19.45],[0.3,19.45],[-0.15,19.8],[0.0,19.85],[0.2,19.7],[0.35,19.9],[0.12,18.2],[0.28,17.95],[0.42,17.5],
  [0.6,17.2],[0.7,17.0],[0.5,16.95],[0.15,17.45]];
var m33CmdCyan6 = [[1.48,16.35],[1.22,16.97],[0.95,17.5],[0.55,17.35],[0.5,17.8],[0.6,18.4],[0.45,18.6],[0.35,18.3],[0.25,18.1],
  [-0.05,18.3],[-0.15,18.5],[0.1,18.4],[-0.55,18.45],[-0.3,18.9],[-0.4,19.0],[-0.5,19.2],[-0.6,19.4],[-0.7,19.6],[-0.75,19.8],
  [-0.65,19.85],[-0.55,19.7],[-0.45,19.55],[-0.4,19.9],[-0.35,19.75],[-0.3,19.45],[-0.25,19.85],[-0.2,19.6],[-0.15,19.95],[-0.1,19.8],
  [-0.05,19.55],[0.0,19.9],[0.05,19.7],[0.1,19.95],[0.15,19.75],[0.2,19.85],[0.25,19.6],[0.3,19.95],[0.35,19.7],[0.4,19.9],[0.45,19.6],
  [0.5,19.8],[0.55,19.5],[0.6,19.7],[0.7,19.55],[0.8,19.4],[0.9,19.45],[0.75,19.25],[0.65,19.15],[-0.35,19.2],[-0.25,19.1],[-0.2,19.3],
  [-0.1,19.2],[0.0,19.4],[0.05,19.15],[0.15,19.3],[0.2,19.1],[0.3,19.35],[0.4,19.2],[0.5,19.3],[0.55,19.05],[-0.2,18.95],[-0.1,18.85],
  [0.0,19.0],[0.1,18.9],[0.2,18.8],[0.3,18.95],[0.4,18.85],[-0.15,18.7],[0.05,18.65],[0.15,18.55],[0.25,18.7],[-0.5,19.9],[-0.45,19.8],
  [-0.6,19.95],[0.45,19.95],[0.55,19.9],[-0.3,19.6],[-0.15,19.4],[0.1,19.5],[0.35,19.45],[0.6,19.35],[-0.4,19.35],[0.25,19.25],
  [-0.05,19.65],[0.2,19.55],[0.4,19.65],[0.65,19.6],[-0.2,19.75],[0.08,19.85],[-0.32,19.95],[0.3,19.8],[0.15,20.0],[0.35,18.1],
  [0.4,17.95],[0.5,18.2],[-0.35,18.6],[-0.45,18.8],[0.48,18.45],[0.62,18.9],[0.85,19.6],[1.0,19.3],[0.7,19.9],
  [-0.52,19.55],[-0.42,19.68],[-0.32,19.82],[-0.22,19.52],[-0.12,19.68],[-0.02,19.82],[0.08,19.6],[0.18,19.72],[0.28,19.5],
  [0.38,19.8],[0.48,19.72],[-0.38,19.48],[-0.28,19.3],[-0.18,19.45],[-0.08,19.32],[0.02,19.55],[0.12,19.38],[0.22,19.45],
  [0.32,19.62],[0.42,19.42],[-0.55,19.98],[-0.25,19.98],[0.05,19.98],[0.25,19.98],[-0.62,19.7],[-0.5,19.3],[-0.25,18.75],
  [-0.05,18.95],[0.15,19.0],[0.35,19.1],[0.55,19.6],[0.75,19.75],[0.9,19.8],[-0.65,19.55]];
var m33CmdRed5 = [[1.89,16.33],[2.11,17.19],[1.51,17.54],[1.34,17.78],[1.89,17.76],[2.05,17.78],[2.21,17.73],[2.31,17.44],[2.41,17.63],
  [2.48,17.41],[2.38,17.90],[2.24,17.98],[2.14,17.98],[1.84,17.96],[2.01,18.06],[2.44,18.00],[2.18,18.13],[2.11,18.27],[1.41,18.21],
  [1.82,18.26],[1.91,18.27],[1.99,18.23],[2.21,18.27],[2.41,18.23],[2.46,18.27],[2.61,17.73],[2.72,17.76],[2.64,17.86],[1.94,18.47],
  [2.04,18.47],[1.81,18.57],[2.21,18.52],[2.46,18.62],[1.57,18.85],[1.77,18.82],[1.87,18.77],[1.97,18.82],[2.08,18.82],[1.74,19.01],
  [1.84,18.97],[1.91,18.92],[2.11,19.01],[2.18,18.97],[2.53,18.92],[1.61,19.21],[1.51,19.34],[1.81,19.24],[1.94,19.26],[2.04,19.16],
  [1.77,19.46],[2.18,19.44],[2.21,19.41],[1.73,19.80],[2.3,18.4],[2.0,18.65],[1.65,18.95],[2.25,19.1],[2.4,18.85],[1.95,19.55],
  [2.55,17.5],[1.75,18.4],[2.12,18.7],[2.35,19.3]];
var m33CmdPink6 = [[1.4,17.45],[1.5,17.55],[1.25,17.65],[1.55,17.8],[1.85,17.6],[2.6,17.3],[2.88,17.4],[3.05,17.75],[2.75,18.05],
  [3.0,18.1],[3.2,18.25],[2.85,18.55],[3.0,18.75],[3.3,19.15],[3.15,19.05],[2.75,18.95],[2.65,19.3],[1.5,18.1],[1.7,18.3],[1.8,18.15],
  [1.9,18.4],[2.0,18.3],[2.1,18.45],[2.2,18.2],[2.3,18.35],[2.4,18.5],[2.5,18.3],[2.55,18.6],[1.6,18.55],[1.75,18.65],[2.05,18.6],
  [2.25,18.65],[1.95,18.7],[2.35,18.05],[1.3,18.5],[1.25,19.1],[1.4,18.9],[1.5,19.2],[1.6,18.8],[1.7,19.1],[1.8,18.9],[1.85,19.25],
  [1.9,19.05],[2.0,18.85],[2.05,19.2],[2.15,19.0],[2.2,18.8],[2.3,19.15],[2.4,19.0],[2.5,19.25],[2.55,18.9],[2.45,19.1],[1.35,19.3],
  [1.55,19.0],[1.95,19.3],[2.25,19.3],[2.6,19.15],[1.05,19.9],[1.15,19.55],[1.2,19.8],[1.3,19.95],[1.35,19.65],[1.4,19.85],[1.45,19.5],
  [1.5,19.75],[1.55,19.95],[1.58,19.6],[1.62,19.85],[1.65,19.4],[1.68,19.7],[1.72,19.95],[1.75,19.55],[1.78,19.8],[1.8,19.4],
  [1.82,19.65],[1.85,19.9],[1.88,19.5],[1.9,19.75],[1.92,19.35],[1.95,19.95],[1.98,19.6],[2.0,19.8],[2.02,19.45],[2.05,19.7],
  [2.08,19.9],[2.1,19.55],[2.12,19.35],[2.15,19.8],[2.18,19.65],[2.2,19.95],[2.22,19.45],[2.25,19.75],[2.28,19.6],[2.3,19.9],
  [2.35,19.5],[2.38,19.7],[2.4,19.85],[2.45,19.6],[2.5,19.8],[2.55,19.45],[2.6,19.7],[2.62,19.95],[2.45,19.95],[1.6,19.5],[1.7,19.3],
  [1.87,19.98],[2.03,19.98],[1.73,19.62],[1.93,19.72],[2.13,19.62],[1.83,19.78],[2.33,19.78],[1.52,19.42],[1.64,19.9],[2.07,19.52],
  [2.27,19.88],[1.97,19.42],
  [1.45,19.9],[1.55,19.7],[1.65,19.55],[1.7,19.85],[1.78,19.45],[1.85,19.62],[1.9,19.88],[1.98,19.5],[2.05,19.85],[2.1,19.68],
  [2.18,19.88],[2.22,19.58],[2.3,19.72],[2.38,19.92],[2.42,19.45],[2.5,19.6],[2.55,19.88],[1.6,19.2],[1.75,19.0],[1.9,19.15],
  [2.1,19.1],[2.3,19.0],[2.45,19.3],[1.5,18.7],[1.65,18.45],[1.85,18.55],[2.15,18.3],[2.45,18.7],[1.35,19.8],[1.25,19.45],
  [2.7,19.8],[2.8,19.5],[1.1,19.6],[2.95,18.3]];

// legend text
var m31Legend = ['M31 5p blue (232)', 'M31 6p blue (551)', 'M31 5p red (29)', 'M31 6p red (775)']
var m33Legend = ['M33 5p blue (270)', 'M33 6p blue (502)', 'M33 5p red (64)', 'M33 6p red (593)']

// tick values
var m31RaTicks = [12.0, 11.5, 11.0, 10.5, 10.0, 9.5]
var m31DecTicks = [40.0, 40.5, 41.0, 41.5, 42.0, 42.5]
var m31ColTicks = [-1, 0, 1, 2, 3, 4]
var m31GTicks = [14, 15, 16, 17, 18, 19, 20]
var m33RaTicks = [24.0, 23.75, 23.5, 23.25, 23.0]
var m33DecTicks = [30.2, 30.4, 30.6, 30.8, 31.0, 31.2]
var m33ColTicks = [0, 1, 2, 3]
var m33GTicks = [15, 16, 17, 18, 19, 20]

// colour cut
var colourCut = 2.6
var cutGRange = [15.8, 20.05]

// ---- drawing
var width = 1200
var height = 276
var plotTop = 8.5
var plotBottom = 234
var fontSize = 11

var svg = d3.select('#chart')
  .append('svg')
  .attr('width', width)
  .attr('height', height)

var styles = [
  { color: '#0000ff', ring: false, r: 1.5, opacity: 1 },
  { color: '#00ffff', ring: true, r: 1.7, opacity: 0.7 },
  { color: '#ff0000', ring: false, r: 1.5, opacity: 1 },
  { color: '#f08080', ring: true, r: 1.7, opacity: 0.55 }
]
var cmdStyles = [
  { color: '#0000ff', r: 1.5, opacity: 1 },
  { color: '#00ffff', r: 1.4, opacity: 0.8 },
  { color: '#ff0000', r: 1.5, opacity: 1 },
  { color: '#f08080', r: 1.5, opacity: 0.55 }
]

var panels = [
  { left: 58, right: 286, xDomain: [12.087, 9.251], yDomain: [39.854, 42.678], xTicks: m31RaTicks, yTicks: m31DecTicks,
    xFmt: '.1f', yFmt: '.1f', kind: 'sky', series: [m31SkyBlue5, m31SkyCyan6, m31SkyRed5, m31SkyPink6], yLabelX: 17 },
  { left: 353, right: 579, xDomain: [-1.181, 4.133], yDomain: [20.186, 13.211], xTicks: m31ColTicks, yTicks: m31GTicks,
    xFmt: 'd', yFmt: 'd', kind: 'cmd', series: [m31CmdBlue5, m31CmdCyan6, m31CmdRed5, m31CmdPink6], legend: m31Legend,
    legendX: 357.7, cutLabelX: 1.90, yLabelX: 330 },
  { left: 670, right: 898, xDomain: [24.077, 22.853], yDomain: [30.068, 31.257], xTicks: m33RaTicks, yTicks: m33DecTicks,
    xFmt: '.2f', yFmt: '.1f', kind: 'sky', series: [m33SkyBlue5, m33SkyCyan6, m33SkyRed5, m33SkyPink6], yLabelX: 630 },
  { left: 964, right: 1191, xDomain: [-0.958, 3.602], yDomain: [20.169, 13.497], xTicks: m33ColTicks, yTicks: m33GTicks,
    xFmt: 'd', yFmt: 'd', kind: 'cmd', series: [m33CmdBlue5, m33CmdCyan6, m33CmdRed5, m33CmdPink6], legend: m33Legend,
    legendX: 969, cutLabelX: 1.69, yLabelX: 930 }
]

// writes G_BP - G_RP style math text into a text element
function colourLabel(sel, tail) {
  sel.append('tspan').attr('font-style', 'italic').text('G')
  sel.append('tspan').attr('font-style', 'italic').attr('font-size', fontSize * 0.7).attr('dy', 2.5).text('BP')
  sel.append('tspan').attr('dy', -2.5).text(' \u2212 ')
  sel.append('tspan').attr('font-style', 'italic').text('G')
  sel.append('tspan').attr('font-style', 'italic').attr('font-size', fontSize * 0.7).attr('dy', 2.5).text('RP')
  if (tail) sel.append('tspan').attr('dy', -2.5).text(tail)
}

panels.forEach(function (p, i) {
  var x = d3.scaleLinear().domain(p.xDomain).range([p.left, p.right])
  var y = d3.scaleLinear().domain(p.yDomain).range([plotBottom, plotTop])
  var g = svg.append('g')

  g.append('clipPath').attr('id', 'clip' + i)
    .append('rect')
    .attr('x', p.left).attr('y', plotTop)
    .attr('width', p.right - p.left).attr('height', plotBottom - plotTop)

  var plot = g.append('g').attr('clip-path', 'url(#clip' + i + ')')

  p.series.forEach(function (data, k) {
    var st = p.kind === 'sky' ? styles[k] : cmdStyles[k]
    var dots = plot.append('g').selectAll('circle')
      .data(data)
      .enter()
      .append('circle')
      .attr('cx', function (d) { return x(d[0]) })
      .attr('cy', function (d) { return y(d[1]) })
      .attr('r', st.r)
    if (st.ring) {
      dots.attr('fill', 'none').attr('stroke', st.color)
        .attr('stroke-width', 0.8).attr('stroke-opacity', st.opacity)
    } else {
      dots.attr('fill', st.color).attr('fill-opacity', st.opacity)
    }
  })

  if (p.kind === 'cmd') {
    plot.append('line')
      .attr('x1', x(colourCut)).attr('x2', x(colourCut))
      .attr('y1', y(cutGRange[0])).attr('y2', y(cutGRange[1]))
      .attr('stroke', '#ff00ff')
      .attr('stroke-width', 1.7)
      .attr('stroke-dasharray', '6.2,2.7')

    g.append('text')
      .attr('x', x(p.cutLabelX))
      .attr('y', y(15.67))
      .attr('fill', '#ff00ff')
      .attr('font-size', fontSize)
      .call(colourLabel, ' = 2.6')
  }

  // axes
  var xAxis = d3.axisBottom(x).tickValues(p.xTicks).tickFormat(d3.format(p.xFmt))
    .tickSizeOuter(0).tickSizeInner(4.5).tickPadding(0.5)
  var yAxis = d3.axisLeft(y).tickValues(p.yTicks).tickFormat(d3.format(p.yFmt))
    .tickSizeOuter(0).tickSizeInner(4.5).tickPadding(2.5)

  var xg = g.append('g').attr('transform', 'translate(0,' + plotBottom + ')').call(xAxis)
  var yg = g.append('g').attr('transform', 'translate(' + p.left + ',0)').call(yAxis)
  ;[xg, yg].forEach(function (ax) {
    ax.attr('font-family', null).attr('font-size', fontSize)
    ax.select('.domain').remove()
    ax.selectAll('.tick line').attr('stroke', '#000').attr('stroke-width', 0.9)
    ax.selectAll('.tick text').attr('fill', '#000')
  })

  g.append('rect')
    .attr('x', p.left).attr('y', plotTop)
    .attr('width', p.right - p.left).attr('height', plotBottom - plotTop)
    .attr('fill', 'none')
    .attr('stroke', '#000')
    .attr('stroke-width', 0.9)

  var cx = (p.left + p.right) / 2
  var cy = (plotTop + plotBottom) / 2
  if (p.kind === 'sky') {
    g.append('text').attr('x', cx).attr('y', 265).attr('text-anchor', 'middle')
      .attr('font-size', fontSize).text('RA (deg)')
    g.append('text').attr('transform', 'translate(' + p.yLabelX + ',' + cy + ') rotate(-90)')
      .attr('text-anchor', 'middle').attr('font-size', fontSize).text('Dec (deg)')
  } else {
    g.append('text').attr('x', cx).attr('y', 263).attr('text-anchor', 'middle')
      .attr('font-size', fontSize).call(colourLabel)
    g.append('text').attr('transform', 'translate(' + p.yLabelX + ',' + cy + ') rotate(-90)')
      .attr('text-anchor', 'middle').attr('font-size', fontSize).attr('font-style', 'italic').text('G')

    // legend
    var lg = g.append('g')
    var legW = p.legend === m31Legend ? 104.3 : 105
    lg.append('rect')
      .attr('x', p.legendX).attr('y', 12.5)
      .attr('width', legW).attr('height', 50.2)
      .attr('rx', 2.5)
      .attr('fill', '#fff').attr('fill-opacity', 0.8)
      .attr('stroke', '#d5d5d5').attr('stroke-width', 0.9)
    p.legend.forEach(function (label, k) {
      var st = cmdStyles[k]
      var ry = 19.5 + k * 12
      lg.append('circle')
        .attr('cx', p.legendX + 10).attr('cy', ry).attr('r', 1.3)
        .attr('fill', st.color).attr('fill-opacity', k === 3 ? 0.3 : st.opacity)
      lg.append('text')
        .attr('x', p.legendX + 26.5).attr('y', ry + 2.9)
        .attr('font-size', 8).text(label)
    })
  }
})
</script>
</body>
</html>
